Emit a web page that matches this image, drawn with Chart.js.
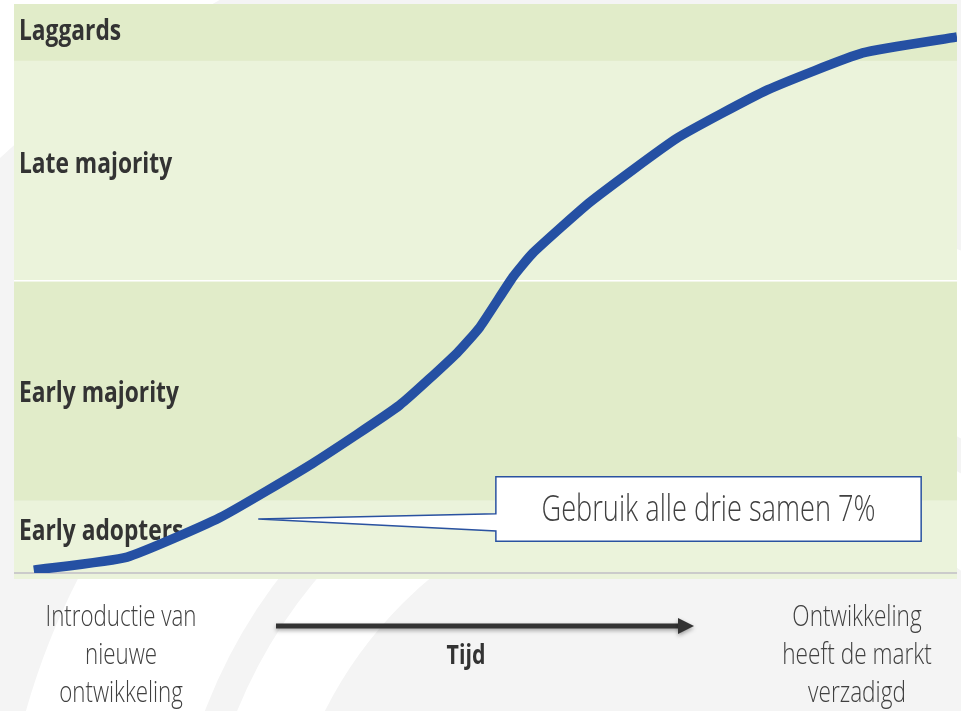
<!DOCTYPE html>
<html>
<head>
<meta charset="utf-8">
<script src="https://cdn.jsdelivr.net/npm/chart.js@4/dist/chart.umd.min.js"></script>
<style>
	html, body { margin: 0; padding: 0; background: #f4f4f4; }
	canvas { display: block; }
</style>
</head>
<body>
<canvas id="chart" width="961" height="711"></canvas>
<script>
// adoption curve, x = time (0-100), y = share of market (0-100)
const timeValues = [2.1, 12.0, 21.8, 31.7, 40.9, 47.0, 49.4, 52.9, 55.0, 61.1, 70.3, 79.9, 90.0, 100];
const adoptionValues = [0.5, 2.8, 9.7, 19.3, 29.5, 38.7, 43.2, 52.0, 56.2, 65.2, 76.4, 84.9, 91.4, 94.2];

// adopter groups as horizontal bands (bottom -> top)
const bandNames = ['Early adopters', 'Early majority', 'Late majority', 'Laggards'];
const bandEdges = [0, 12.7, 51.3, 90, 100];
const bandColors = ['#ebf3db', '#e1ecc9', '#ebf3db', '#e1ecc9'];

const calloutText = 'Gebruik alle drie samen 7%';
const startLabel = ['Introductie van', 'nieuwe', 'ontwikkeling'];
const endLabel = ['Ontwikkeling', 'heeft de markt', 'verzadigd'];
const axisLabel = 'Tijd';

const FONT = '"Open Sans", "Liberation Sans Narrow", sans-serif';
const labelShift = [-5, 3, -6, -1];

function condText(ctx, text, x, y, font, sx) {
	ctx.save();
	ctx.font = font;
	ctx.translate(x, y);
	ctx.scale(sx, 1);
	ctx.fillText(text, 0, 0);
	ctx.restore();
}

const backdrop = {
	id: 'backdrop',
	beforeDraw(chart) {
		const {ctx, chartArea: a, scales: {y}} = chart;
		ctx.save();
		ctx.fillStyle = '#f4f4f4';
		ctx.fillRect(0, 0, chart.width, chart.height);
		// faint watermark rings
		ctx.strokeStyle = '#ffffff';
		ctx.beginPath(); ctx.lineWidth = 170; ctx.arc(700, 900, 615, 0, Math.PI * 2); ctx.stroke();
		ctx.beginPath(); ctx.lineWidth = 80; ctx.arc(700, 900, 460, 0, Math.PI * 2); ctx.stroke();
		ctx.beginPath(); ctx.lineWidth = 180; ctx.arc(700, 900, 1110, 0, Math.PI * 2); ctx.stroke();

		// bands
		bandNames.forEach((n, i) => {
			const top = y.getPixelForValue(bandEdges[i + 1]);
			let bot = y.getPixelForValue(bandEdges[i]);
			if (i === 0) bot += 6;
			ctx.fillStyle = bandColors[i];
			ctx.fillRect(a.left, top, a.right - a.left, bot - top);
		});
		ctx.fillStyle = '#ffffff';
		ctx.fillRect(a.left, Math.round(y.getPixelForValue(bandEdges[2])) - 1, a.right - a.left, 1.5);
		// base line
		ctx.fillStyle = '#cbcbcb';
		ctx.fillRect(a.left, a.bottom - 1, a.right - a.left, 2);

		// band labels
		ctx.fillStyle = '#333333';
		ctx.textBaseline = 'middle';
		ctx.textAlign = 'left';
		bandNames.forEach((n, i) => {
			const yy = y.getPixelForValue((bandEdges[i] + bandEdges[i + 1]) / 2) + labelShift[i];
			condText(ctx, n, a.left + 5, yy, 'bold 29px ' + FONT, 0.785);
		});
		ctx.restore();
	},
	afterDraw(chart) {
		const {ctx, scales: {x, y}} = chart;
		ctx.save();
		// callout box with pointer
		const tipX = x.getPixelForValue(25.9), tipY = y.getPixelForValue(9.5);
		const bl = x.getPixelForValue(51.1), br = x.getPixelForValue(96.2);
		const bt = y.getPixelForValue(16.9), bb = y.getPixelForValue(5.6);
		const p1 = y.getPixelForValue(10.4), p2 = y.getPixelForValue(7.4);
		ctx.beginPath();
		ctx.moveTo(bl, bt);
		ctx.lineTo(br, bt);
		ctx.lineTo(br, bb);
		ctx.lineTo(bl, bb);
		ctx.lineTo(bl, p2);
		ctx.lineTo(tipX, tipY);
		ctx.lineTo(bl, p1);
		ctx.closePath();
		ctx.fillStyle = '#ffffff';
		ctx.fill();
		ctx.strokeStyle = '#2a52a0';
		ctx.lineWidth = 1.5;
		ctx.stroke();
		ctx.fillStyle = '#404040';
		ctx.textAlign = 'center';
		ctx.textBaseline = 'middle';
		condText(ctx, calloutText, (bl + br) / 2, (bt + bb) / 2 + 1, '300 37px ' + FONT, 0.735);

		// time arrow under the plot
		const ay = 626;
		ctx.shadowColor = 'rgba(0,0,0,0.35)';
		ctx.shadowBlur = 4;
		ctx.shadowOffsetY = 2;
		ctx.fillStyle = '#333333';
		ctx.fillRect(276, ay - 2.5, 405, 5);
		ctx.beginPath();
		ctx.moveTo(678, ay - 8);
		ctx.lineTo(694, ay);
		ctx.lineTo(678, ay + 8);
		ctx.closePath();
		ctx.fill();
		ctx.shadowColor = 'transparent';

		condText(ctx, axisLabel, 466, 657, 'bold 26px ' + FONT, 0.82);
		ctx.fillStyle = '#404040';
		startLabel.forEach((t, i) => condText(ctx, t, 121, 618 + i * 38, '300 29px ' + FONT, 0.77));
		endLabel.forEach((t, i) => condText(ctx, t, 857, 618 + i * 38, '300 29px ' + FONT, 0.78));
		ctx.restore();
	}
};

new Chart(document.getElementById('chart'), {
	type: 'line',
	data: {
		datasets: [{
			data: timeValues.map((t, i) => ({x: t, y: adoptionValues[i]})),
			borderColor: '#2550a3',
			borderWidth: 9.5,
			tension: 0.15,
			borderCapStyle: 'butt',
			borderJoinStyle: 'round',
			pointRadius: 0,
			fill: false
		}]
	},
	options: {
		responsive: false,
		devicePixelRatio: 1,
		animation: false,
		layout: {padding: {left: 14, right: 4, top: 4, bottom: 138}},
		scales: {
			x: {type: 'linear', min: 0, max: 100, display: false},
			y: {min: 0, max: 100, display: false}
		},
		plugins: {legend: {display: false}, tooltip: {enabled: false}}
	},
	plugins: [backdrop]
});
</script>
</body>
</html>
